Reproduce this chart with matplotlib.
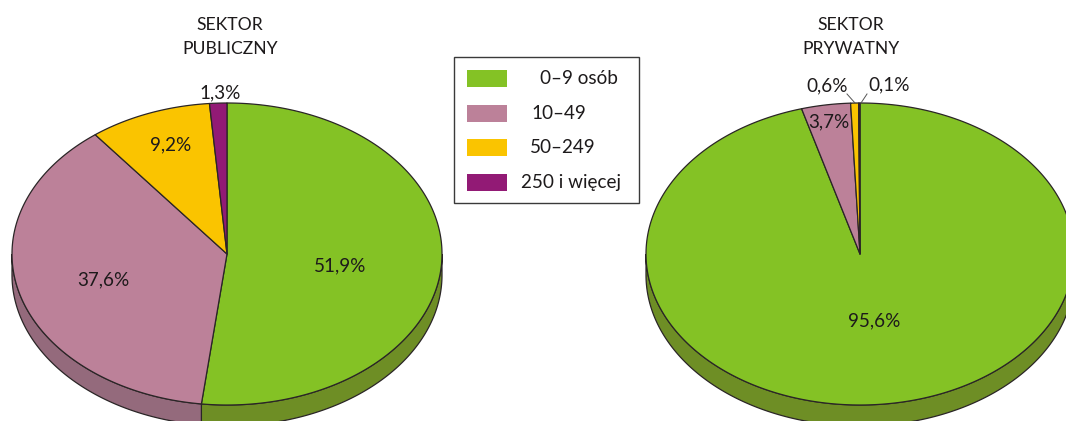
import numpy as np
import matplotlib
matplotlib.use("Agg")
import matplotlib.pyplot as plt
from matplotlib.patches import Rectangle

plt.rcParams["font.family"] = ["Lato", "DejaVu Sans"]

# values, clockwise from 12 o'clock
categories = ["0–9 osób", "10–49", "50–249", "250 i więcej"]
publiczny = [51.9, 37.6, 9.2, 1.3]
prywatny = [95.6, 3.7, 0.6, 0.1]
publiczny_labels = ["51,9%", "37,6%", "9,2%", "1,3%"]
prywatny_labels = ["95,6%", "3,7%", "0,6%", "0,1%"]
titles = ["SEKTOR\nPUBLICZNY", "SEKTOR\nPRYWATNY"]

colors = ["#84C225", "#BC8199", "#FAC400", "#921A75"]
side_colors = ["#6E8E25", "#946A7C", "#C29A05", "#701A5B"]
EDGE = "#2a2526"
TEXT = "#1d1a1b"
RY, DEPTH = 151, 21
FS = 13.6


def draw_pie(ax, cx, cy, rx, values):
    fracs = np.array(values) / sum(values)
    edges = np.concatenate([[0], np.cumsum(fracs)]) * 2 * np.pi
    px = lambda t: cx + rx * np.sin(t)
    py = lambda t: cy - RY * np.cos(t)
    # side wall, only the part facing the viewer (clockwise angle pi/2..3pi/2)
    for i in range(len(values)):
        a, b = max(edges[i], np.pi / 2), min(edges[i + 1], 3 * np.pi / 2)
        if b <= a:
            continue
        t = np.linspace(a, b, 200)
        xs = np.concatenate([px(t), px(t[::-1])])
        ys = np.concatenate([py(t), py(t[::-1]) + DEPTH])
        ax.fill(xs, ys, fc=side_colors[i], ec=EDGE, lw=0.9, zorder=2)
    # top face
    for i in range(len(values)):
        t = np.linspace(edges[i], edges[i + 1], 400)
        xs = np.concatenate([[cx], px(t)])
        ys = np.concatenate([[cy], py(t)])
        ax.fill(xs, ys, fc=colors[i], ec=EDGE, lw=0.9, joinstyle="round", zorder=3)


fig = plt.figure(figsize=(10.66, 4.21), dpi=100)
ax = fig.add_axes([0, 0, 1, 1])
ax.set_xlim(0, 1066)
ax.set_ylim(421, 0)
ax.axis("off")

draw_pie(ax, 227, 254, 215, publiczny)
draw_pie(ax, 860, 254, 214, prywatny)


def label(x, y, s, **kw):
    ax.text(x, y, s, ha="center", va="center", fontsize=FS, color=TEXT, zorder=5, **kw)


for x, y, s in zip([340, 103, 171, 220], [266, 280, 145, 93], publiczny_labels):
    label(x, y, s)
for x, y, s in zip([874, 829, 827, 889], [321, 122, 86, 85], prywatny_labels):
    label(x, y, s)

# leader lines for the two thin slices
ax.plot([847, 855], [94, 103], color="#555555", lw=0.7, zorder=5)
ax.plot([867, 861], [94, 103], color="#555555", lw=0.7, zorder=5)

for x, t in zip([230, 851], titles):
    ax.text(x, 37, t, ha="center", va="center", fontsize=12.6, color=TEXT, linespacing=1.67)

# legend box
ax.add_patch(Rectangle((453.5, 56.5), 185, 146, fc="white", ec="#3a3a3a", lw=1.0, zorder=4))
for i, (c, x) in enumerate(zip(categories, [540, 531, 530, 521])):
    y = 78.5 + 34.7 * i
    ax.add_patch(Rectangle((467, y - 8.5), 40, 17, fc=colors[i], ec="none", zorder=5))
    ax.text(x, y, c, ha="left", va="center", fontsize=FS, color=TEXT, zorder=5)

fig.savefig("out.png", dpi=100)
